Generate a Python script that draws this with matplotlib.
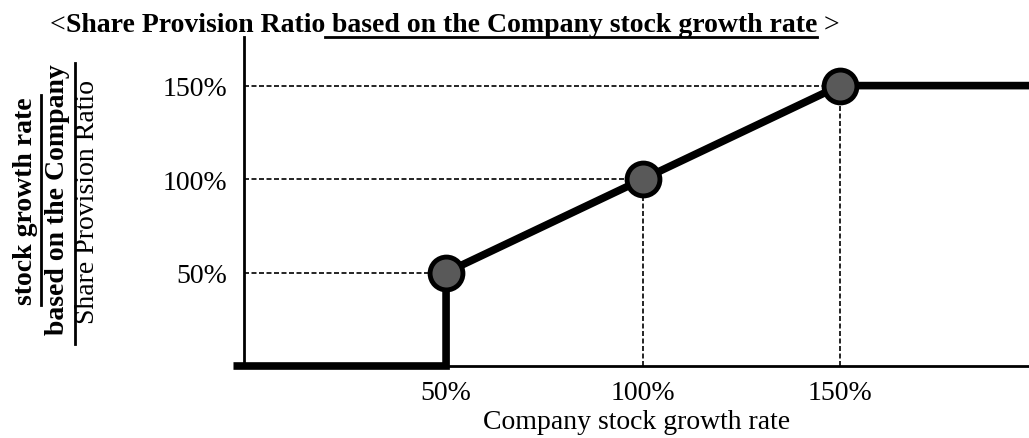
import matplotlib
matplotlib.use("Agg")
import matplotlib.pyplot as plt
from matplotlib.lines import Line2D

plt.rcParams["font.family"] = ["Liberation Serif", "DejaVu Serif"]

# data (percent)
line_x = [-3, 50, 50, 100, 150, 198]
line_y = [0, 0, 50, 100, 150, 150]
point_x = [50, 100, 150]
point_y = [50, 100, 150]
tick_vals = [50, 100, 150]
tick_labels = ["50%", "100%", "150%"]

fig = plt.figure(figsize=(10.29, 4.39), dpi=100)
ax = fig.add_axes([244 / 1029, 1 - 367 / 439, 1 - 244 / 1029, (367 - 38) / 439])
ax.set_xlim(-1.3, 198)
ax.set_ylim(0, 176)

# guide lines
for px, py in zip(point_x, point_y):
    ax.plot([-1.3, px], [py, py], color="black", lw=1.2, ls=(0, (3, 1.5)), zorder=1)
    ax.plot([px, px], [0, py], color="black", lw=1.2, ls=(0, (3, 1.5)), zorder=1)

ax.plot(line_x, line_y, color="black", lw=5.5, solid_joinstyle="miter",
        clip_on=False, zorder=3)
ax.scatter(point_x, point_y, s=560, color="#595959", edgecolor="black",
           linewidth=3.5, zorder=4, clip_on=False)

for s in ["top", "right"]:
    ax.spines[s].set_visible(False)
ax.spines["left"].set_linewidth(2)
ax.spines["bottom"].set_linewidth(2)
ax.set_xticks(tick_vals, tick_labels)
ax.set_yticks(tick_vals, tick_labels)
ax.tick_params(length=0, labelsize=20, pad=10)
ax.tick_params(axis="y", pad=12)
ax.set_xlabel("Company stock growth rate", fontsize=20, labelpad=3)

# y label as a fraction
fig.text(88 / 1029, 1 - 202 / 439, "Share Provision Ratio", rotation=90,
         fontsize=20, ha="center", va="center")
fig.text(58 / 1029, 1 - 200 / 439, "based on the Company", rotation=90,
         fontsize=20, fontweight="bold", ha="center", va="center")
fig.text(26 / 1029, 1 - 201 / 439, "stock growth rate", rotation=90,
         fontsize=20, fontweight="bold", ha="center", va="center")
fig.add_artist(Line2D([75 / 1029, 75 / 1029], [1 - 64 / 439, 1 - 345 / 439],
                      color="black", lw=2, transform=fig.transFigure))
fig.add_artist(Line2D([41 / 1029, 41 / 1029], [1 - 96 / 439, 1 - 306 / 439],
                      color="black", lw=2, transform=fig.transFigure))

# title built from pieces
renderer = fig.canvas.get_renderer()
pieces = [("<", "normal", False), ("Share Provision Ratio", "bold", False),
          (" based on the Company stock growth rate", "bold", True),
          (" >", "normal", False)]
x = 50
y_base = 1 - 32 / 439
for txt, weight, under in pieces:
    t = fig.text(x / 1029, y_base, txt, fontsize=20, fontweight=weight,
                 ha="left", va="baseline")
    bb = t.get_window_extent(renderer)
    if under:
        fig.add_artist(Line2D([bb.x0 / 1029, bb.x1 / 1029],
                              [1 - 38 / 439, 1 - 38 / 439], color="black",
                              lw=2, transform=fig.transFigure))
    x = bb.x1

fig.savefig("out.png", dpi=100)
